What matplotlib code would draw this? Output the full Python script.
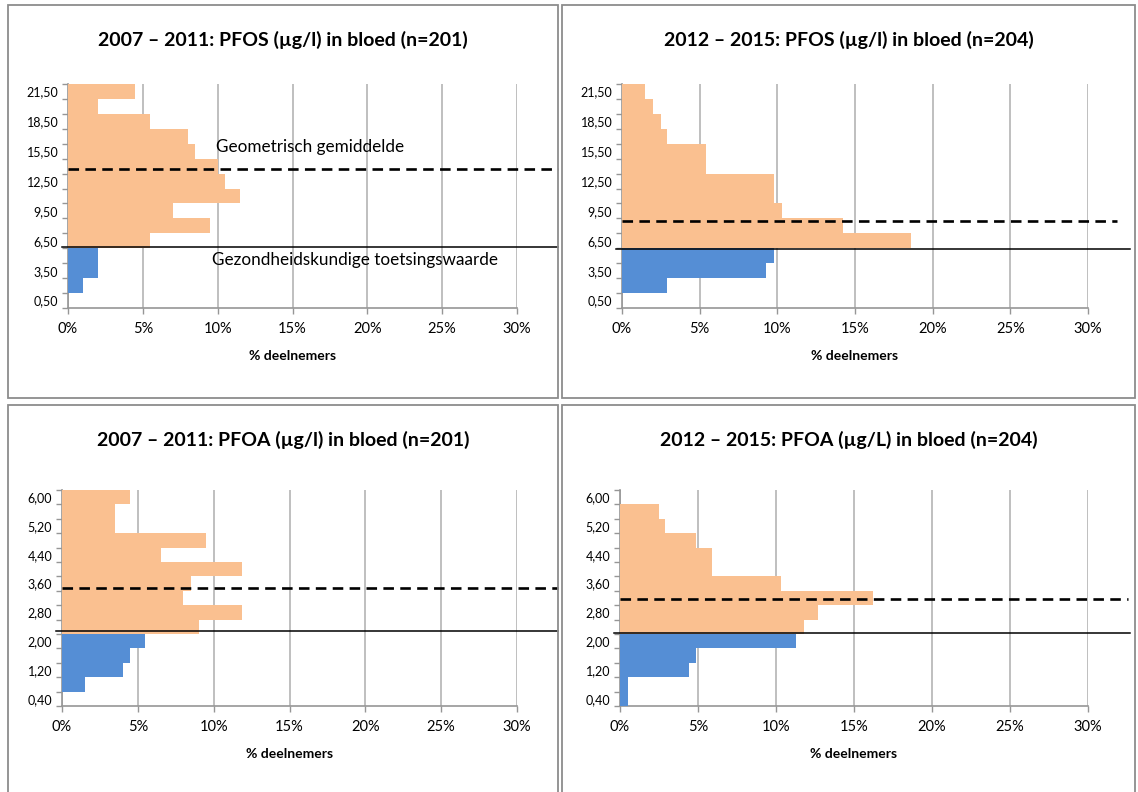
import matplotlib
matplotlib.use("Agg")
import matplotlib.pyplot as plt
import matplotlib.transforms as mtransforms
from matplotlib.patches import Rectangle
import numpy as np

plt.rcParams['font.family'] = ['Lato', 'DejaVu Sans']

# bin labels (bottom to top)
pfos_bins = [0.5, 2.0, 3.5, 5.0, 6.5, 8.0, 9.5, 11.0, 12.5, 14.0, 15.5, 17.0, 18.5, 20.0, 21.5]
pfoa_bins = [0.4, 0.8, 1.2, 1.6, 2.0, 2.4, 2.8, 3.2, 3.6, 4.0, 4.4, 4.8, 5.2, 5.6, 6.0]

# % deelnemers per bin
pfos_0711 = [0, 1.0, 2.0, 2.0, 5.5, 9.5, 7.0, 11.5, 10.5, 10.0, 8.5, 8.0, 5.5, 2.0, 4.5]
pfos_1215 = [0, 2.9, 9.3, 9.8, 18.6, 14.2, 10.3, 9.8, 9.8, 5.4, 5.4, 2.9, 2.5, 2.0, 1.5]
pfoa_0711 = [0, 1.5, 4.0, 4.5, 5.5, 9.0, 11.9, 8.0, 8.5, 11.9, 6.5, 9.5, 3.5, 3.5, 4.5]
pfoa_1215 = [0.5, 0.5, 4.4, 4.9, 11.3, 11.8, 12.7, 16.2, 10.3, 5.9, 5.9, 4.9, 2.9, 2.5, 0]

# number of bins below the health-based value (blue)
n_below = [4, 4, 5, 5]

# reference lines, in bin-index units: geometric mean (dashed), toetsingswaarde (solid)
geo_mean = [8.83, 5.3, 7.7, 6.9]
limit = [3.6, 3.45, 4.73, 4.57]

titles = [
    "2007 \u2013 2011: PFOS (\u00b5g/l) in bloed (n=201)",
    "2012 \u2013 2015: PFOS (\u00b5g/l) in bloed (n=204)",
    "2007 \u2013 2011: PFOA (\u00b5g/l) in bloed (n=201)",
    "2012 \u2013 2015: PFOA (\u00b5g/L) in bloed (n=204)",
]

ORANGE = "#FAC090"
BLUE = "#558ED5"
GRID = "#BFBFBF"
AXIS = "#969696"

W, H = 1138, 792
fig = plt.figure(figsize=(W / 100, H / 100), dpi=100)


def px(x0, y0, x1, y1):
    return [x0 / W, 1 - y1 / H, (x1 - x0) / W, (y1 - y0) / H]


# panel frames (pixel boxes)
frames = [(8, 5, 558, 398), (562, 5, 1135, 398), (8, 405, 558, 800), (562, 405, 1135, 800)]
axes_box = [(68, 84, 517, 308), (622, 84, 1088, 308), (62, 490, 517, 706), (620, 490, 1088, 706)]
line_end = [(558, 558), (1117, 1130), (558, 558), (1128, 1130)]

for (x0, y0, x1, y1) in frames:
    fig.patches.append(Rectangle((x0 / W, 1 - y1 / H), (x1 - x0) / W, (y1 - y0) / H,
                                 transform=fig.transFigure, fill=False,
                                 edgecolor="#8C8C8C", linewidth=1.3))

datasets = [(pfos_bins, pfos_0711), (pfos_bins, pfos_1215),
            (pfoa_bins, pfoa_0711), (pfoa_bins, pfoa_1215)]

for i, (bins, vals) in enumerate(datasets):
    ax = fig.add_axes(px(*axes_box[i]))
    idx = np.arange(len(bins))
    colors = [BLUE if k < n_below[i] else ORANGE for k in idx]
    ax.barh(idx, vals, height=1.0, color=colors, zorder=3)

    ax.set_xlim(0, 30)
    ax.set_ylim(-0.5, len(bins) - 0.5)
    ax.set_xticks(np.arange(0, 31, 5))
    ax.set_xticklabels([f"{t}%" for t in range(0, 31, 5)], fontsize=10.5)
    ax.grid(axis="x", color=GRID, linewidth=1.4, zorder=0)
    ax.set_yticks(idx[::2])
    ax.set_yticklabels([f"{b:.2f}".replace(".", ",") for b in bins[::2]], fontsize=9)
    ax.set_yticks(np.arange(-0.5, len(bins), 1), minor=True)
    ax.tick_params(axis="y", which="major", length=0, pad=7)
    ax.tick_params(axis="y", which="minor", length=4, color=AXIS, width=1)
    ax.tick_params(axis="x", length=4, color=AXIS, width=1, pad=6)
    for s in ("top", "right"):
        ax.spines[s].set_visible(False)
    for s in ("left", "bottom"):
        ax.spines[s].set_color(AXIS)
        ax.spines[s].set_linewidth(1.2)
    ax.set_xlabel("% deelnemers", fontsize=10, fontweight="bold", labelpad=10)

    x0, y0, x1, y1 = axes_box[i]
    tr = mtransforms.blended_transform_factory(fig.transFigure, ax.transData)
    ax.plot([x0 / W, line_end[i][0] / W], [geo_mean[i]] * 2, transform=tr, color="black",
            linewidth=1.9, dashes=(4, 2.4), clip_on=False, zorder=5)
    ax.plot([(x0 - 6) / W, line_end[i][1] / W], [limit[i]] * 2, transform=tr, color="black",
            linewidth=1.1, clip_on=False, zorder=5)

    fx, fy0, fx1, fy1 = frames[i]
    fig.text((fx + fx1) / 2 / W, 1 - (fy0 + 35) / H, titles[i], ha="center", va="center",
             fontsize=14, fontweight="bold")

    if i == 0:
        ax.text(216 / W, geo_mean[i] + 1.45, "Geometrisch gemiddelde", transform=tr,
                fontsize=12.3, va="center", ha="left")
        ax.text(212 / W, limit[i] - 0.9, "Gezondheidskundige toetsingswaarde", transform=tr,
                fontsize=12.3, va="center", ha="left")

fig.savefig("out.png", dpi=100)
